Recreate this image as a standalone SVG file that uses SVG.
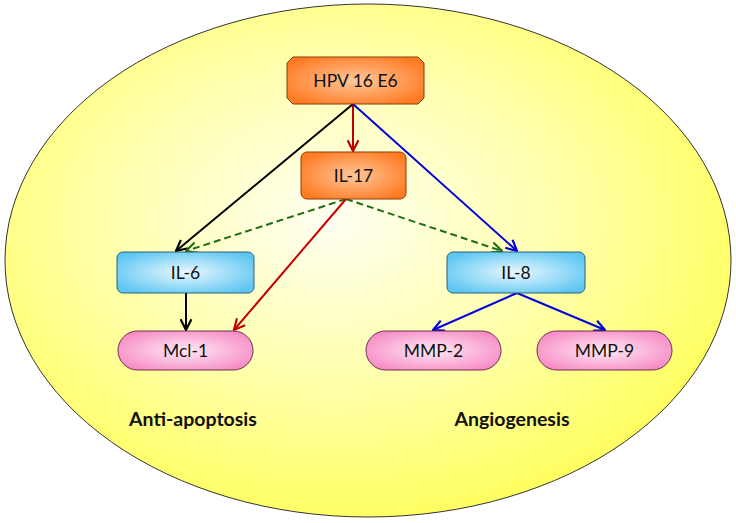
<svg xmlns="http://www.w3.org/2000/svg" width="736" height="523" viewBox="0 0 736 523">
<defs>
<radialGradient id="bg" cx="0.45" cy="0.42" r="0.6">
<stop offset="0" stop-color="#FFFFF2"/>
<stop offset="0.55" stop-color="#FFFFA8"/>
<stop offset="1" stop-color="#FFFF5E"/>
</radialGradient>
<radialGradient id="og" cx="0.5" cy="0.5" r="0.6">
<stop offset="0" stop-color="#FFC79A"/>
<stop offset="1" stop-color="#FF7A22"/>
</radialGradient>
<radialGradient id="bl" cx="0.5" cy="0.5" r="0.6">
<stop offset="0" stop-color="#EAF8FF"/>
<stop offset="1" stop-color="#5CC6F2"/>
</radialGradient>
<radialGradient id="pk" cx="0.5" cy="0.5" r="0.6">
<stop offset="0" stop-color="#FFEAF5"/>
<stop offset="1" stop-color="#F68AC4"/>
</radialGradient>
<marker id="aK" viewBox="0 0 12 12" refX="11" refY="6" markerWidth="13" markerHeight="13" markerUnits="userSpaceOnUse" orient="auto"><path d="M1,1 L11,6 L1,11" fill="none" stroke="#000" stroke-width="2"/></marker>
<marker id="aR" viewBox="0 0 12 12" refX="11" refY="6" markerWidth="13" markerHeight="13" markerUnits="userSpaceOnUse" orient="auto"><path d="M1,1 L11,6 L1,11" fill="none" stroke="#C00000" stroke-width="2"/></marker>
<marker id="aB" viewBox="0 0 12 12" refX="11" refY="6" markerWidth="13" markerHeight="13" markerUnits="userSpaceOnUse" orient="auto"><path d="M1,1 L11,6 L1,11" fill="none" stroke="#0000E0" stroke-width="2"/></marker>
<marker id="aG" viewBox="0 0 12 12" refX="11" refY="6" markerWidth="13" markerHeight="13" markerUnits="userSpaceOnUse" orient="auto"><path d="M1,1 L11,6 L1,11" fill="none" stroke="#1E6E14" stroke-width="2"/></marker>
</defs>
<style>
text{font-family:Lato,"Liberation Sans",sans-serif;font-size:17.5px;fill:#111;text-anchor:middle;dominant-baseline:central}
.lab{font-weight:bold;font-size:19.5px}
.o{fill:url(#og);stroke:#8A3A08;stroke-width:1}
.b{fill:url(#bl);stroke:#2F5E7A;stroke-width:1}
.p{fill:url(#pk);stroke:#6E3050;stroke-width:1}
.c{fill:none;stroke-width:2}
</style>
<ellipse cx="368" cy="260.5" rx="363" ry="256.5" fill="url(#bg)" stroke="#333" stroke-width="1"/>
<g id="connectors">
<line class="c" x1="353" y1="104" x2="353" y2="151" stroke="#C00000" marker-end="url(#aR)"/>
<line class="c" x1="353" y1="104" x2="176" y2="251" stroke="#000" marker-end="url(#aK)"/>
<line class="c" x1="353" y1="104" x2="517" y2="251" stroke="#0000E0" marker-end="url(#aB)"/>
<line class="c" x1="346" y1="199" x2="186" y2="251" stroke="#1E6E14" stroke-dasharray="7,4" marker-end="url(#aG)"/>
<line class="c" x1="346" y1="199" x2="502" y2="251" stroke="#1E6E14" stroke-dasharray="7,4" marker-end="url(#aG)"/>
<line class="c" x1="346" y1="199" x2="234" y2="330" stroke="#C00000" marker-end="url(#aR)"/>
<line class="c" x1="186" y1="293" x2="186" y2="330" stroke="#000" marker-end="url(#aK)"/>
<line class="c" x1="517" y1="293" x2="433" y2="330" stroke="#0000E0" marker-end="url(#aB)"/>
<line class="c" x1="517" y1="293" x2="605" y2="330" stroke="#0000E0" marker-end="url(#aB)"/>
</g>
<g id="hpv"><path class="o" d="M293,57 H418 L424,63 V98 L418,104 H293 L287,98 V63 Z"/><text x="355.5" y="80.5">HPV 16 E6</text></g>
<g id="il17"><rect class="o" x="301" y="152" width="105" height="47" rx="6"/><text x="353.5" y="175.5">IL-17</text></g>
<g id="il6"><rect class="b" x="117" y="252" width="137" height="41" rx="6"/><text x="185.5" y="272.5">IL-6</text></g>
<g id="il8"><rect class="b" x="447" y="252" width="138" height="41" rx="6"/><text x="516" y="272.5">IL-8</text></g>
<g id="mcl1"><rect class="p" x="118" y="331" width="135" height="39" rx="19.5"/><text x="185.5" y="350.5">Mcl-1</text></g>
<g id="mmp2"><rect class="p" x="366" y="331" width="135" height="39" rx="19.5"/><text x="433.5" y="350.5">MMP-2</text></g>
<g id="mmp9"><rect class="p" x="537" y="331" width="135" height="39" rx="19.5"/><text x="604.5" y="350.5">MMP-9</text></g>
<text class="lab" x="193" y="418">Anti-apoptosis</text>
<text class="lab" x="512" y="418">Angiogenesis</text>
</svg>
